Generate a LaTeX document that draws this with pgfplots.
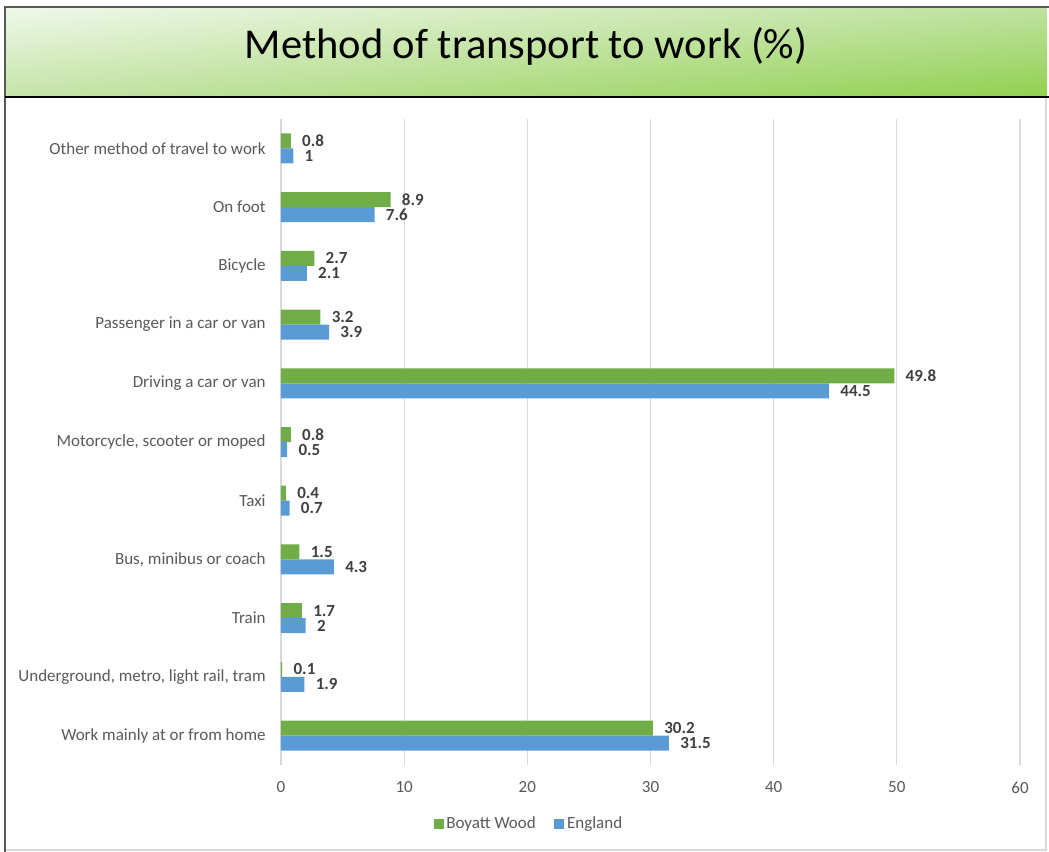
\documentclass[border=0pt]{standalone}
\usepackage{pgfplots}
\pgfplotsset{compat=1.18}
\usetikzlibrary{shadings}
\usepackage{fontspec}
\setmainfont{Carlito}
\definecolor{cgreen}{HTML}{70AD47}
\definecolor{cblue}{HTML}{5B9BD5}
\definecolor{cgrid}{HTML}{D9D9D9}
\definecolor{ctext}{HTML}{595959}
\definecolor{clab}{HTML}{404040}
\definecolor{gul}{HTML}{F0F8EA}
\definecolor{gur}{HTML}{BEE2A0}
\definecolor{gll}{HTML}{C4E4A8}
\definecolor{glr}{HTML}{92D050}
\begin{document}
\begin{tikzpicture}
\path[use as bounding box] (0,0) rectangle (1049*0.75pt,-852*0.75pt);
\shade[upper left=gul, upper right=gur, lower left=gll, lower right=glr]
  (5*0.75pt,-7*0.75pt) rectangle (1047*0.75pt,-97*0.75pt);
\draw[color=cgrid, line width=1pt] (1046*0.75pt,-97*0.75pt) -- (1046*0.75pt,-850*0.75pt) -- (5*0.75pt,-850*0.75pt);
\draw[color=black!65, line width=1.3pt] (1049*0.75pt,-7*0.75pt) -- (5*0.75pt,-7*0.75pt) -- (5*0.75pt,-852*0.75pt);
\draw[color=black, line width=1.3pt] (5*0.75pt,-97*0.75pt) -- (1049*0.75pt,-97*0.75pt);
\node[font=\fontsize{31.9}{38}\selectfont, anchor=center] at (526*0.75pt,-46*0.75pt) {Method of transport to work (\%)};
\begin{axis}[
  at={(281*0.75pt,-765*0.75pt)}, anchor=south west,
  scale only axis, width=554.25pt, height=484.5pt,
  xbar, bar width=11.25pt,
  xmin=0, xmax=60, ymin=-0.5, ymax=10.5,
  xtick={0,10,...,60},
  ytick={0,...,10},
  yticklabels={Work mainly at or from home, {Underground, metro, light rail, tram}, Train, {Bus, minibus or coach}, Taxi, {Motorcycle, scooter or moped}, Driving a car or van, Passenger in a car or van, Bicycle, On foot, Other method of travel to work},
  xmajorgrids, grid style={cgrid, line width=0.8pt},
  axis x line*=bottom, axis y line*=left,
  x axis line style={draw=none},
  y axis line style={cgrid, line width=0.8pt},
  major tick length=0pt,
  tick style={draw=none},
  /pgf/number format/assume math mode=true,
  ticklabel style={font=\fontsize{12.75}{15}\selectfont, text=ctext},
  yticklabel style={xshift=-8pt},
  xticklabel style={yshift=-9pt},
  nodes near coords,
  nodes near coords style={anchor=west, font=\bfseries\fontsize{12.75}{15}\selectfont, text=clab, xshift=5pt, inner ysep=0pt, text height=8.3pt, text depth=0pt},
  point meta=explicit symbolic,
  legend style={at={(0.336,-0.0913)}, anchor=center, draw=none, legend columns=2, font=\fontsize{12.75}{15}\selectfont, text=ctext,
    /tikz/column 2/.style={column sep=12pt}},
  legend image code/.code={\fill[#1] (0pt,-3.75pt) rectangle (7.5pt,3.75pt);},
  clip=false,
]
\addplot[draw=none, fill=cgreen, bar shift=5.625pt] coordinates {
 (30.2,0)[30.2] (0.1,1)[0.1] (1.7,2)[1.7] (1.5,3)[1.5] (0.4,4)[0.4] (0.8,5)[0.8] (49.8,6)[49.8] (3.2,7)[3.2] (2.7,8)[2.7] (8.9,9)[8.9] (0.8,10)[0.8]};
\addplot[draw=none, fill=cblue, bar shift=-5.625pt] coordinates {
 (31.5,0)[31.5] (1.9,1)[1.9] (2,2)[2] (4.3,3)[4.3] (0.7,4)[0.7] (0.5,5)[0.5] (44.5,6)[44.5] (3.9,7)[3.9] (2.1,8)[2.1] (7.6,9)[7.6] (1,10)[1]};
\legend{Boyatt Wood, England}
\end{axis}
\end{tikzpicture}
\end{document}
